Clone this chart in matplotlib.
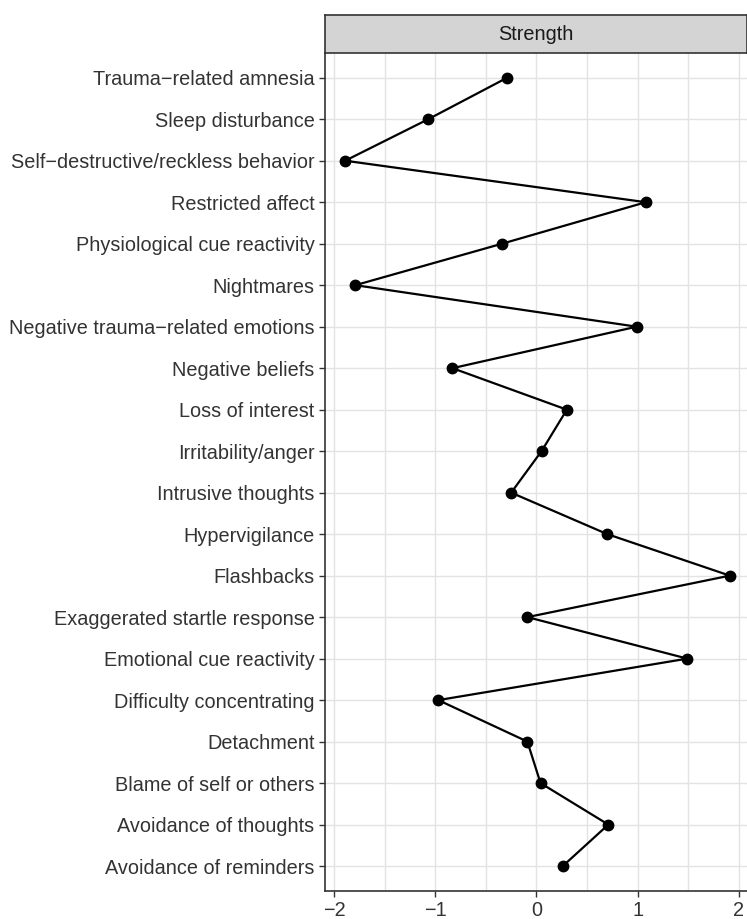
import numpy as np
import matplotlib.pyplot as plt

plt.rcParams['font.family'] = ['Liberation Sans', 'DejaVu Sans']

# symptoms, top to bottom
symptoms = ["Trauma\u2212related amnesia", "Sleep disturbance",
            "Self\u2212destructive/reckless behavior", "Restricted affect",
            "Physiological cue reactivity", "Nightmares",
            "Negative trauma\u2212related emotions", "Negative beliefs",
            "Loss of interest", "Irritability/anger", "Intrusive thoughts",
            "Hypervigilance", "Flashbacks", "Exaggerated startle response",
            "Emotional cue reactivity", "Difficulty concentrating",
            "Detachment", "Blame of self or others", "Avoidance of thoughts",
            "Avoidance of reminders"]
strength = [-0.29, -1.07, -1.89, 1.08, -0.34, -1.79, 0.99, -0.83, 0.30, 0.05,
            -0.25, 0.70, 1.91, -0.09, 1.49, -0.97, -0.09, 0.04, 0.71, 0.26]
xticks = [-2, -1, 0, 1, 2]

n = len(symptoms)
y = np.arange(n, 0, -1)

fig = plt.figure(figsize=(7.47, 9.19), dpi=100)
ax = fig.add_axes([0.435, 0.0305, 0.565, 0.912])

ax.plot(strength, y, color='black', lw=1.6, marker='o', markersize=7.5, zorder=3)

ax.set_xlim(-2.09, 2.08)
ax.set_ylim(0.4, n + 0.6)
ax.set_xticks(xticks)
ax.set_xticklabels([str(t).replace('-', '\u2212') for t in xticks])
ax.set_xticks([-1.5, -0.5, 0.5, 1.5], minor=True)
ax.set_yticks(y)
ax.set_yticklabels(symptoms)

ax.grid(True, which='major', color='#e3e3e3', lw=1.0)
ax.grid(True, which='minor', axis='x', color='#e3e3e3', lw=1.0)
ax.set_axisbelow(True)
for s in ['top', 'right']:
    ax.spines[s].set_visible(False)
for s in ['left', 'bottom']:
    ax.spines[s].set_color('#333333')
    ax.spines[s].set_linewidth(1.2)

ax.tick_params(axis='both', which='major', colors='#333333', labelcolor='#333333',
               labelsize=14.3, length=4, width=1)
ax.tick_params(axis='x', which='minor', length=0)

# facet strip
strip = fig.add_axes([0.435, 0.9423, 0.565, 0.0414])
strip.set_facecolor('#d4d4d4')
strip.set_xticks([])
strip.set_yticks([])
for s in strip.spines.values():
    s.set_color('#333333')
    s.set_linewidth(1.2)
strip.text(0.5, 0.5, "Strength", ha='center', va='center', fontsize=14.3,
           color='#1a1a1a', transform=strip.transAxes)

fig.savefig('out.png', dpi=100)
